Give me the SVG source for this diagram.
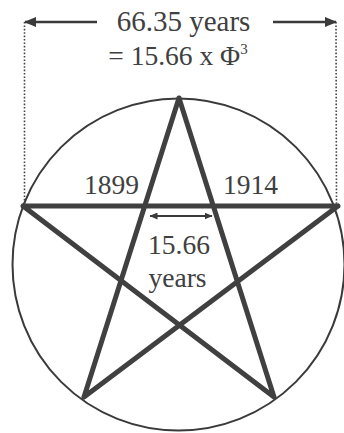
<svg xmlns="http://www.w3.org/2000/svg" width="344" height="433" viewBox="0 0 344 433">
<defs>
<style>
.t{font-family:"Liberation Serif","Times New Roman",serif;font-size:27.5px;fill:#404040;text-anchor:middle}
.star{stroke:#404040;stroke-width:5;fill:none;stroke-linecap:round;stroke-linejoin:round}
.dot{stroke:#444;stroke-width:1.6;stroke-dasharray:1.6 1.8;fill:none}
.arr{stroke:#3a3a3a;stroke-width:2.6;fill:none}
.sarr{stroke:#3a3a3a;stroke-width:2;fill:none}
</style>
<marker id="ah" viewBox="0 0 12 10" refX="11" refY="5" markerWidth="12" markerHeight="10" markerUnits="userSpaceOnUse" orient="auto-start-reverse">
<path d="M0,0 L12,5 L0,10 Z" fill="#3a3a3a"/>
</marker>
<marker id="sh" viewBox="0 0 8 7" refX="7.5" refY="3.5" markerWidth="8" markerHeight="7" markerUnits="userSpaceOnUse" orient="auto-start-reverse">
<path d="M0,0 L8,3.5 L0,7 Z" fill="#3a3a3a"/>
</marker>
</defs>
<g id="circle">
<circle cx="178.5" cy="264.5" r="166" fill="none" stroke="#3a3a3a" stroke-width="2"/>
</g>
<g id="pentagram">
<path class="star" d="M23,206 L338,206 M23,206 L274,397 M338,206 L84,397 M179,98 L84,397 M179,98 L274,397"/>
</g>
<g id="connectors">
<line class="dot" x1="24.5" y1="22" x2="24.5" y2="206"/>
<line class="dot" x1="336" y1="22" x2="336.5" y2="206"/>
<line class="arr" x1="97" y1="22" x2="25" y2="22" marker-end="url(#ah)"/>
<line class="arr" x1="273" y1="22" x2="336" y2="22" marker-end="url(#ah)"/>
<line class="sarr" x1="150" y1="216" x2="212" y2="216" marker-start="url(#sh)" marker-end="url(#sh)"/>
</g>
<g id="title">
<text class="t" x="183.5" y="30.5" style="font-size:29px">66.35 years</text>
<text class="t" x="178" y="65">= 15.66 x Φ<tspan font-size="15" dy="-11">3</tspan></text>
</g>
<g id="label-1899"><text class="t" x="111.5" y="194">1899</text></g>
<g id="label-1914"><text class="t" x="250.5" y="194">1914</text></g>
<g id="label-interval">
<text class="t" x="179" y="254">15.66</text>
<text class="t" x="177.5" y="287">years</text>
</g>
</svg>
